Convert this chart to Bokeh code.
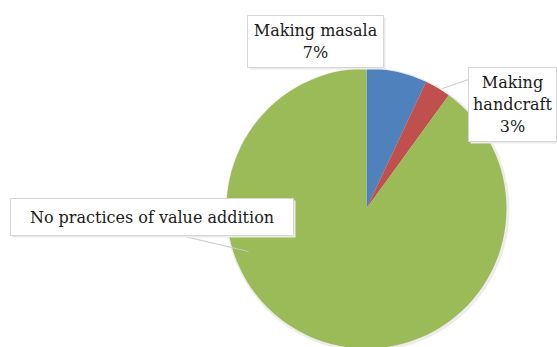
from math import pi
import numpy as np
from bokeh.plotting import figure
from bokeh.models import Range1d, ColumnDataSource
from bokeh.core.properties import value
from bokeh.embed import file_html
from bokeh.resources import INLINE

categories = ["Making masala", "Making handcraft", "No practices of value addition"]
values = [7, 3, 90]
show_pct = [True, True, False]
label_lines = [["Making masala"], ["Making", "handcraft"], ["No practices of value addition"]]
colors = ["#4F81BD", "#C0504D", "#9BBB59"]

W, H = 557, 347
cx, cy, R = 366, H - 208, 140

frac = np.array(values, dtype=float) / sum(values)
cum = np.concatenate([[0], np.cumsum(frac)])
start = pi / 2 - 2 * pi * cum[:-1]
end = pi / 2 - 2 * pi * cum[1:]

p = figure(width=W, height=H, x_range=Range1d(0, W), y_range=Range1d(0, H),
           output_backend="svg", toolbar_location=None, min_border=0)
p.axis.visible = False
p.grid.visible = False
p.outline_line_color = None
p.background_fill_color = "white"

# soft shadow
p.circle(x=[cx + 1], y=[cy - 1], radius=R + 2, fill_color="#ececec", line_color=None)

src = ColumnDataSource(dict(x=[cx] * 3, y=[cy] * 3, start=start, end=end, color=colors))
p.wedge(x="x", y="y", radius=R, start_angle="start", end_angle="end", direction="clock",
        fill_color="color", line_color=None, source=src)

# label boxes (layout positions in pixel space, y measured from top)
boxes = [(247, 383, 15, 67), (468, 556, 67, 141), (10, 293, 198, 235)]
leaders = [None, ((468, 79), (442, 88)), ((180, 235), (248, 251))]

for (x0, x1, t, b), ld in zip(boxes, leaders):
    if ld:
        (ax, ay), (bx, by) = ld
        p.segment(x0=[ax], y0=[H - ay], x1=[bx], y1=[H - by], line_color="#c8c8c8", line_width=1)
    p.quad(left=[x0 + 2], right=[x1 + 2], top=[H - t - 2], bottom=[H - b - 2],
           fill_color="#ebebeb", line_color=None)
    p.quad(left=[x0], right=[x1], top=[H - t], bottom=[H - b],
           fill_color="white", line_color="#d6d6d6", line_width=1)

for (x0, x1, t, b), lines, v, sp in zip(boxes, label_lines, values, show_pct):
    txt = lines + ([f"{v}%"] if sp else [])
    n = len(txt)
    lh = 22
    mid = (t + b) / 2
    for i, s in enumerate(txt):
        ypix = mid + (i - (n - 1) / 2) * lh
        p.text(x=[(x0 + x1) / 2], y=[H - ypix], text=[s], text_align="center",
               text_baseline="middle", text_font=value("DejaVu Serif"),
               text_font_size="16px", text_color="#1a1a1a")

open("out.html", "w").write(file_html(p, INLINE))
